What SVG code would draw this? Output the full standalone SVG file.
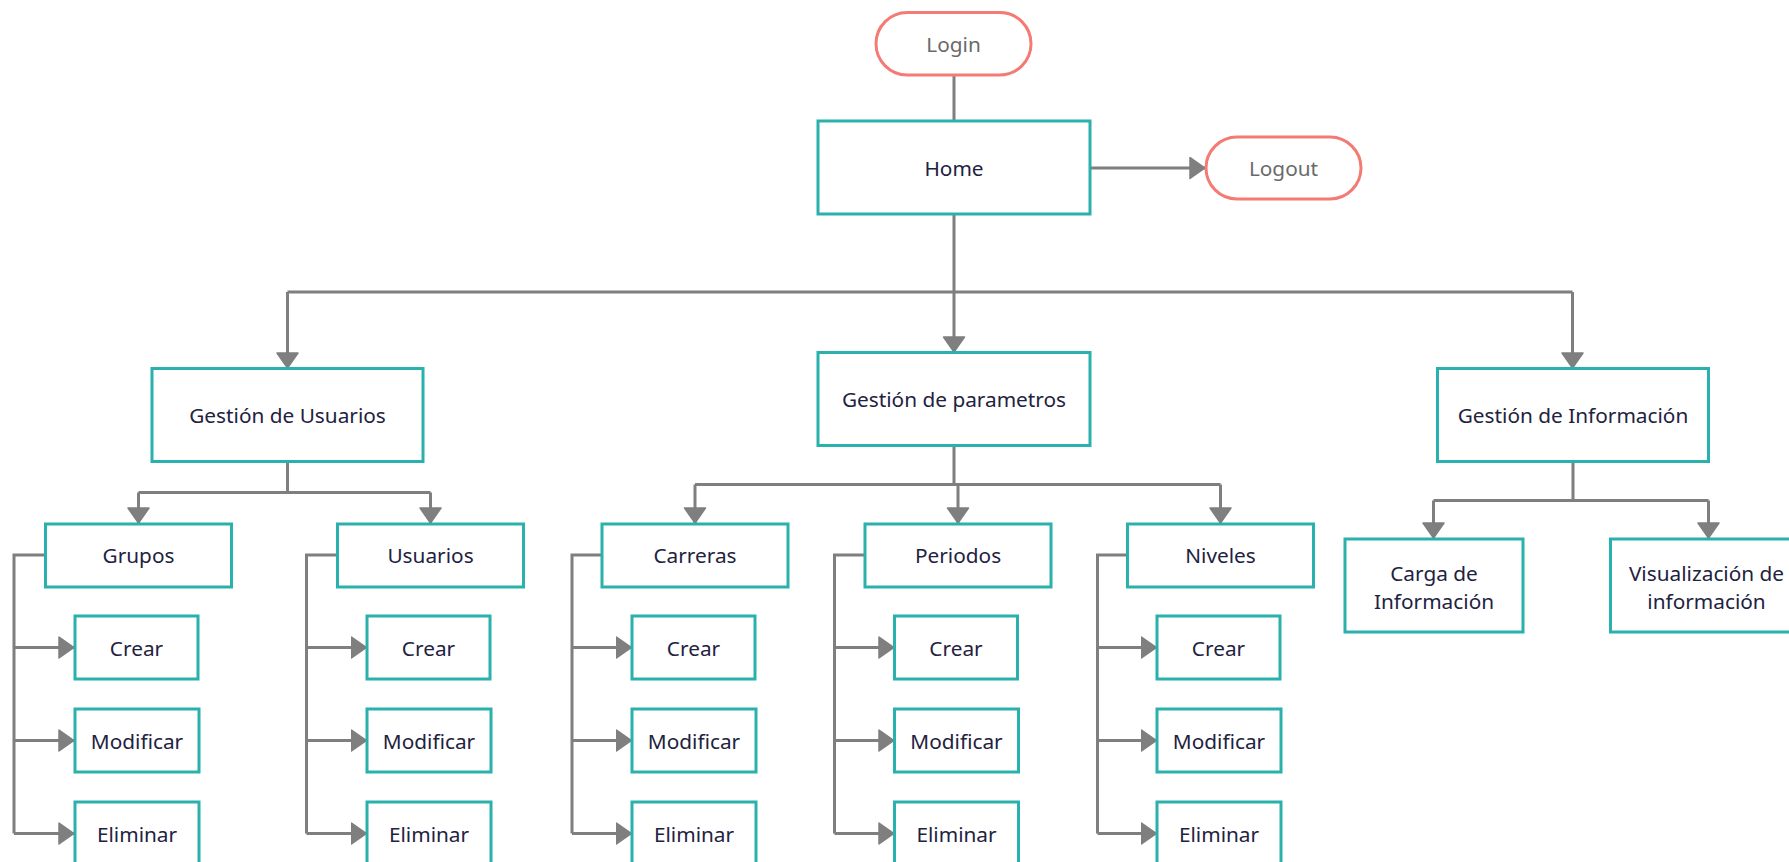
<svg xmlns="http://www.w3.org/2000/svg" width="1789" height="862" viewBox="0 0 1789 862">
  <style>
    .box { fill: #ffffff; stroke: #2bb1ad; stroke-width: 3; }
    .pill { fill: #ffffff; stroke: #f47a74; stroke-width: 3; }
    .lbl { font-family: "Noto Sans", "Open Sans", sans-serif; font-size: 20.8px; fill: #22223f; text-anchor: middle; }
    .plbl { font-family: "Noto Sans", "Open Sans", sans-serif; font-size: 20.8px; fill: #6a6a6a; text-anchor: middle; }
    .wire { fill: none; stroke: #7f7f7f; stroke-width: 3; }
    .arrow { fill: none; stroke: #7f7f7f; stroke-width: 3; marker-end: url(#head); }
  </style>
  <defs>
    <marker id="head" markerUnits="userSpaceOnUse" markerWidth="18" markerHeight="24" refX="16" refY="11.5" orient="auto">
      <path d="M1,1 L16,11.5 L1,22 Z" fill="#7f7f7f" stroke="#7f7f7f" stroke-width="1.5" stroke-linejoin="round"/>
    </marker>
  </defs>
  <rect width="1789" height="862" fill="#ffffff"/>

  <!-- connectors -->
  <g id="connectors">
    <!-- top level -->
    <path class="wire" d="M954,75 V121"/>
    <path class="arrow" d="M1090,168 H1205"/>
    <path class="wire" d="M954,214 V292 M287.5,292 H1572.5"/>
    <path class="arrow" d="M287.5,292 V368"/>
    <path class="arrow" d="M954,292 V352"/>
    <path class="arrow" d="M1572.5,292 V368"/>

    <!-- Gestión de Usuarios -->
    <path class="wire" d="M287.5,462 V492.5 M138.5,492.5 H430.5"/>
    <path class="arrow" d="M138.5,492.5 V523"/>
    <path class="arrow" d="M430.5,492.5 V523"/>

    <!-- Gestión de parametros -->
    <path class="wire" d="M954,446 V484.5 M695,484.5 H1220.5"/>
    <path class="arrow" d="M695,484.5 V523"/>
    <path class="arrow" d="M958,484.5 V523"/>
    <path class="arrow" d="M1220.5,484.5 V523"/>

    <!-- Gestión de Información -->
    <path class="wire" d="M1573,462 V500.5 M1433.5,500.5 H1708.5"/>
    <path class="arrow" d="M1433.5,500.5 V538"/>
    <path class="arrow" d="M1708.5,500.5 V538"/>

    <!-- Grupos -->
    <path class="wire" d="M45.5,555 H14 V833.5"/>
    <path class="arrow" d="M14,647.5 H74"/>
    <path class="arrow" d="M14,740.5 H74"/>
    <path class="arrow" d="M14,833.5 H74"/>

    <!-- Usuarios -->
    <path class="wire" d="M337.5,555 H306.5 V833.5"/>
    <path class="arrow" d="M306.5,647.5 H366.5"/>
    <path class="arrow" d="M306.5,740.5 H366.5"/>
    <path class="arrow" d="M306.5,833.5 H366.5"/>

    <!-- Carreras -->
    <path class="wire" d="M602,555 H572 V833.5"/>
    <path class="arrow" d="M572,647.5 H631.5"/>
    <path class="arrow" d="M572,740.5 H631.5"/>
    <path class="arrow" d="M572,833.5 H631.5"/>

    <!-- Periodos -->
    <path class="wire" d="M865,555 H834.5 V833.5"/>
    <path class="arrow" d="M834.5,647.5 H894"/>
    <path class="arrow" d="M834.5,740.5 H894"/>
    <path class="arrow" d="M834.5,833.5 H894"/>

    <!-- Niveles -->
    <path class="wire" d="M1127.5,555 H1097.5 V833.5"/>
    <path class="arrow" d="M1097.5,647.5 H1156.5"/>
    <path class="arrow" d="M1097.5,740.5 H1156.5"/>
    <path class="arrow" d="M1097.5,833.5 H1156.5"/>
  </g>

  <!-- top level nodes -->
  <g id="login">
    <rect class="pill" x="876" y="12.5" width="155" height="62.5" rx="31.25"/>
    <text class="plbl" x="953.5" y="52">Login</text>
  </g>
  <g id="home">
    <rect class="box" x="818" y="121" width="272" height="93"/>
    <text class="lbl" x="954" y="175.5">Home</text>
  </g>
  <g id="logout">
    <rect class="pill" x="1206" y="137" width="155" height="62" rx="31"/>
    <text class="plbl" x="1283.5" y="176">Logout</text>
  </g>

  <!-- second level -->
  <g id="gestion-usuarios">
    <rect class="box" x="152" y="368.5" width="271" height="93"/>
    <text class="lbl" x="287.5" y="423">Gestión de Usuarios</text>
  </g>
  <g id="gestion-parametros">
    <rect class="box" x="818" y="352.5" width="272" height="93"/>
    <text class="lbl" x="954" y="407">Gestión de parametros</text>
  </g>
  <g id="gestion-informacion">
    <rect class="box" x="1437.5" y="368.5" width="271" height="93"/>
    <text class="lbl" x="1573" y="423">Gestión de Información</text>
  </g>

  <!-- third level -->
  <g id="grupos">
    <rect class="box" x="45.5" y="524" width="186" height="63"/>
    <text class="lbl" x="138.5" y="563">Grupos</text>
  </g>
  <g id="usuarios">
    <rect class="box" x="337.5" y="524" width="186" height="63"/>
    <text class="lbl" x="430.5" y="563">Usuarios</text>
  </g>
  <g id="carreras">
    <rect class="box" x="602" y="524" width="186" height="63"/>
    <text class="lbl" x="695" y="563">Carreras</text>
  </g>
  <g id="periodos">
    <rect class="box" x="865" y="524" width="186" height="63"/>
    <text class="lbl" x="958" y="563">Periodos</text>
  </g>
  <g id="niveles">
    <rect class="box" x="1127.5" y="524" width="186" height="63"/>
    <text class="lbl" x="1220.5" y="563">Niveles</text>
  </g>
  <g id="carga-informacion">
    <rect class="box" x="1345" y="539" width="178" height="93"/>
    <text class="lbl" x="1434" y="580.5">Carga de</text>
    <text class="lbl" x="1434" y="608.5">Información</text>
  </g>
  <g id="visualizacion-informacion">
    <rect class="box" x="1610.5" y="539" width="196" height="93"/>
    <text class="lbl" x="1706.5" y="581">Visualización de</text>
    <text class="lbl" x="1706.5" y="608.5">información</text>
  </g>

  <!-- leaf actions: Grupos -->
  <g id="grupos-crear">
    <rect class="box" x="75" y="616" width="123" height="63"/>
    <text class="lbl" x="136.5" y="656">Crear</text>
  </g>
  <g id="grupos-modificar">
    <rect class="box" x="75" y="709" width="124" height="63"/>
    <text class="lbl" x="137" y="749">Modificar</text>
  </g>
  <g id="grupos-eliminar">
    <rect class="box" x="75" y="802" width="124" height="63"/>
    <text class="lbl" x="137" y="842">Eliminar</text>
  </g>

  <!-- leaf actions: Usuarios -->
  <g id="usuarios-crear">
    <rect class="box" x="367" y="616" width="123" height="63"/>
    <text class="lbl" x="428.5" y="656">Crear</text>
  </g>
  <g id="usuarios-modificar">
    <rect class="box" x="367" y="709" width="124" height="63"/>
    <text class="lbl" x="429" y="749">Modificar</text>
  </g>
  <g id="usuarios-eliminar">
    <rect class="box" x="367" y="802" width="124" height="63"/>
    <text class="lbl" x="429" y="842">Eliminar</text>
  </g>

  <!-- leaf actions: Carreras -->
  <g id="carreras-crear">
    <rect class="box" x="632" y="616" width="123" height="63"/>
    <text class="lbl" x="693.5" y="656">Crear</text>
  </g>
  <g id="carreras-modificar">
    <rect class="box" x="632" y="709" width="124" height="63"/>
    <text class="lbl" x="694" y="749">Modificar</text>
  </g>
  <g id="carreras-eliminar">
    <rect class="box" x="632" y="802" width="124" height="63"/>
    <text class="lbl" x="694" y="842">Eliminar</text>
  </g>

  <!-- leaf actions: Periodos -->
  <g id="periodos-crear">
    <rect class="box" x="894.5" y="616" width="123" height="63"/>
    <text class="lbl" x="956" y="656">Crear</text>
  </g>
  <g id="periodos-modificar">
    <rect class="box" x="894.5" y="709" width="124" height="63"/>
    <text class="lbl" x="956.5" y="749">Modificar</text>
  </g>
  <g id="periodos-eliminar">
    <rect class="box" x="894.5" y="802" width="124" height="63"/>
    <text class="lbl" x="956.5" y="842">Eliminar</text>
  </g>

  <!-- leaf actions: Niveles -->
  <g id="niveles-crear">
    <rect class="box" x="1157" y="616" width="123" height="63"/>
    <text class="lbl" x="1218.5" y="656">Crear</text>
  </g>
  <g id="niveles-modificar">
    <rect class="box" x="1157" y="709" width="124" height="63"/>
    <text class="lbl" x="1219" y="749">Modificar</text>
  </g>
  <g id="niveles-eliminar">
    <rect class="box" x="1157" y="802" width="124" height="63"/>
    <text class="lbl" x="1219" y="842">Eliminar</text>
  </g>
</svg>
